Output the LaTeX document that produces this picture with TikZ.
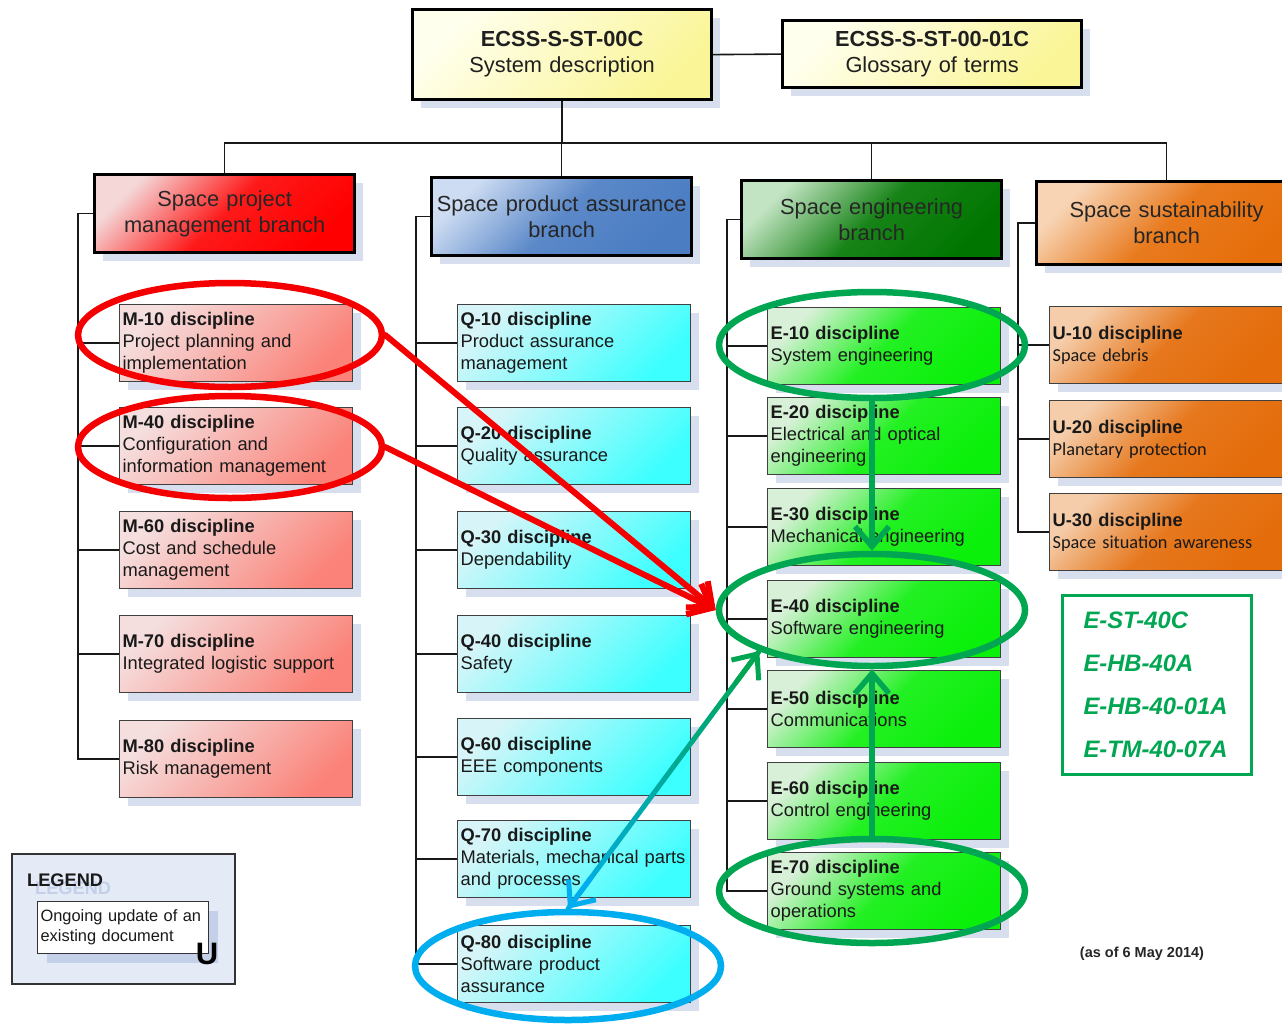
\documentclass[tikz,border=0pt]{standalone}
\usepackage{fontspec}
\setmainfont{Liberation Sans}
\newfontfamily\carl{Carlito}
\usetikzlibrary{shapes.geometric,shadows,arrows.meta,calc}

\definecolor{shadowc}{RGB}{215,223,239}
\definecolor{yL}{RGB}{255,255,238}\definecolor{yF}{RGB}{250,245,150}
\definecolor{rL}{RGB}{245,215,215}\definecolor{rF}{RGB}{255,0,0}
\definecolor{bL}{RGB}{205,220,242}\definecolor{bF}{RGB}{75,125,195}
\definecolor{gL}{RGB}{195,228,195}\definecolor{gF}{RGB}{0,118,0}
\definecolor{oL}{RGB}{248,212,180}\definecolor{oF}{RGB}{230,110,10}
\definecolor{mL}{RGB}{245,222,222}\definecolor{mF}{RGB}{250,130,120}
\definecolor{qL}{RGB}{215,245,248}\definecolor{qF}{RGB}{60,255,255}
\definecolor{eL}{RGB}{215,240,215}\definecolor{eF}{RGB}{10,240,10}
\definecolor{uL}{RGB}{245,205,170}\definecolor{uF}{RGB}{228,108,10}
\definecolor{annR}{RGB}{245,0,0}
\definecolor{annG}{RGB}{0,166,81}
\definecolor{annB}{RGB}{0,174,239}
\definecolor{legfill}{RGB}{228,235,247}
\definecolor{legsh}{RGB}{195,208,232}

\tikzset{
  shad/.style={general shadow={fill=shadowc, shadow xshift=8pt, shadow yshift=-8pt}},
  grad/.style 2 args={top color=#1, bottom color=#2, shading angle=45},
  hgrad/.style 2 args={top color=#1, bottom color=#2, middle color=#2!88!#1, shading angle=45},
  topbox/.style={shad, draw=black, line width=3.2pt, anchor=north west, text width=289pt,
    inner xsep=5pt, align=center, font=\fontsize{21.8}{26}\selectfont, text=black!88},
  hdr/.style={shad, draw=black, line width=3.2pt, anchor=north west, text width=250pt,
    inner xsep=5pt, minimum height=78pt, align=center, font=\fontsize{21.8}{26}\selectfont, text=black!85},
  disc/.style={shad, draw=black!75, line width=1.3pt, anchor=north west, text width=227pt,
    inner xsep=3pt, minimum height=77pt, align=left, font=\fontsize{18.3}{22}\selectfont, text=black!90},
  mbox/.style={disc, grad={mL}{mF}},
  qbox/.style={disc, grad={qL}{qF}},
  ebox/.style={disc, hgrad={eL}{eF}},
  ubox/.style={disc, hgrad={uL}{uF}},
  tree/.style={draw=black!90, line width=1.6pt},
  ell/.style={ellipse, draw, line width=6.5pt, inner sep=0pt},
  annarrow/.style={line width=6pt, line cap=round, -{Straight Barb[length=20pt,width=34pt]}},
}

\begin{document}
\begin{tikzpicture}[x=1pt,y=-1pt]
\useasboundingbox (0,0) rectangle (1282,1023);
\fill[white] (0,0) rectangle (1282,1023);

% top boxes
\node[topbox, minimum height=90pt, grad={yL}{yF}] (std) at (411,8) {\textbf{ECSS-S-ST-00C}\\System description};
\node[topbox, minimum height=67pt, grad={yL}{yF}] (gloss) at (781,19) {\textbf{ECSS-S-ST-00-01C}\\Glossary of terms};

% branch headers
\node[hdr, hgrad={rL}{rF}] (hM) at (93,173) {Space project\\management branch};
\node[hdr, hgrad={bL}{bF}] (hQ) at (430,176) {Space product assurance\\branch};
\node[hdr, hgrad={gL}{gF}] (hE) at (740,179) {Space engineering\\branch};
\node[hdr, minimum height=83pt, hgrad={oL}{oF}] (hU) at (1035,180) {Space sustainability\\branch};

% M discipline
\node[mbox] (m10) at (119,304) {\textbf{M-10 discipline}\\Project planning and\\implementation};
\node[mbox] (m40) at (119,407) {\textbf{M-40 discipline}\\Configuration and\\information management};
\node[mbox] (m60) at (119,511) {\textbf{M-60 discipline}\\Cost and schedule\\management};
\node[mbox] (m70) at (119,615) {\textbf{M-70 discipline}\\Integrated logistic support};
\node[mbox] (m80) at (119,720) {\textbf{M-80 discipline}\\Risk management};

% Q discipline
\node[qbox] (q10) at (457,304) {\textbf{Q-10 discipline}\\Product assurance\\management};
\node[qbox] (q20) at (457,407) {\textbf{Q-20 discipline}\\Quality assurance};
\node[qbox] (q30) at (457,511) {\textbf{Q-30 discipline}\\Dependability};
\node[qbox] (q40) at (457,615) {\textbf{Q-40 discipline}\\Safety};
\node[qbox] (q60) at (457,718) {\textbf{Q-60 discipline}\\EEE components};
\node[qbox] (q70) at (457,820) {\textbf{Q-70 discipline}\\Materials, mechanical parts\\and processes};
\node[qbox] (q80) at (457,925) {\textbf{Q-80 discipline}\\Software product\\assurance};

% E discipline
\node[ebox] (e10) at (767,307) {\textbf{E-10 discipline}\\System engineering};
\node[ebox] (e20) at (767,397) {\textbf{E-20 discipline}\\Electrical and optical\\engineering};
\node[ebox] (e30) at (767,488) {\textbf{E-30 discipline}\\Mechanical engineering};
\node[ebox] (e40) at (767,580) {\textbf{E-40 discipline}\\Software engineering};
\node[ebox] (e50) at (767,670) {\textbf{E-50 discipline}\\Communications};
\node[ebox] (e60) at (767,762) {\textbf{E-60 discipline}\\Control engineering};
\node[ebox] (e70) at (767,852) {\textbf{E-70 discipline}\\Ground systems and\\operations};

% U discipline
\node[ubox] (u10) at (1049,306) {\textbf{U-10 discipline}\\\carl Space debris};
\node[ubox] (u20) at (1049,400) {\textbf{U-20 discipline}\\\carl Planetary protection};
\node[ubox] (u30) at (1049,493) {\textbf{U-30 discipline}\\\carl Space situation awareness};

% tree connectors
\draw[tree] (std.east) -- (gloss.west);
\draw[tree] (std.south) -- ++(0,42) coordinate (bus);
\draw[tree] (hM.north) |- (hU.north |- bus) -- (hU.north);
\draw[tree] (hE.north) -- (hE.north |- bus);
\draw[tree] (hQ.north) -- (hQ.north |- bus);

\draw[tree] (hM.west) -- ++(-15,0) coordinate (sM) |- (m80.west);
\foreach \n in {m10,m40,m60,m70} \draw[tree] (\n.west) -- (\n.west -| sM);
\draw[tree] (hQ.west) -- ++(-14,0) coordinate (sQ) |- (q80.west);
\foreach \n in {q10,q20,q30,q40,q60,q70} \draw[tree] (\n.west) -- (\n.west -| sQ);
\draw[tree] (hE.west) -- ++(-13,0) coordinate (sE) |- (e70.west);
\foreach \n in {e10,e20,e30,e40,e50,e60} \draw[tree] (\n.west) -- (\n.west -| sE);
\draw[tree] (hU.west) -- ++(-17,0) coordinate (sU) |- (u30.west);
\foreach \n in {u10,u20} \draw[tree] (\n.west) -- (\n.west -| sU);

% legend
\node[draw=black!80, line width=1.5pt, fill=legfill, anchor=north west, minimum width=223pt, minimum height=130pt, inner sep=0pt] (leg) at (11,853) {};
\node[font=\bfseries\fontsize{18.2}{20}\selectfont, text=legsh, anchor=base west, inner sep=0pt] (legshadow) at (35,894) {LEGEND};
\node[font=\bfseries\fontsize{18.2}{20}\selectfont, text=black!90, anchor=base west, inner sep=0pt] (legtitle) at (27,886) {LEGEND};
\node[draw=black!80, line width=1.2pt, fill=white, anchor=north west, text width=165pt, inner xsep=3pt, minimum height=52pt, align=left, font=\fontsize{16.4}{20}\selectfont, text=black!90, general shadow={fill=legsh, shadow xshift=9pt, shadow yshift=-9pt}] (legitem) at (37,901) {Ongoing update of an\\existing document};
\node[font=\bfseries\fontsize{31}{31}\selectfont, inner sep=0pt] (legU) at (207,954) {U};

% E-40 documents
\node[draw=annG, line width=3pt, anchor=north west, text width=147pt, inner xsep=21pt, minimum height=179pt, align=left, text=annG, font=\bfseries\itshape\fontsize{23.8}{43}\selectfont] (elist) at (1061,594) {E-ST-40C\\E-HB-40A\\E-HB-40-01A\\E-TM-40-07A};

\node[font=\bfseries\fontsize{14.5}{16}\selectfont, text=black!85] (date) at (1142,954) {(as of 6 May 2014)};

% ellipses
\node[ell, draw=annR, minimum width=304pt, minimum height=104pt] (elM10) at (230,335) {};
\node[ell, draw=annR, minimum width=304pt, minimum height=102pt] (elM40) at (230,447) {};
\node[ell, draw=annG, minimum width=306pt, minimum height=106pt] (elE10) at (872,345) {};
\node[ell, draw=annG, minimum width=306pt, minimum height=112pt] (elE40) at (872,610) {};
\node[ell, draw=annG, minimum width=306pt, minimum height=104pt] (elE70) at (872,891) {};
\node[ell, draw=annB, minimum width=306pt, minimum height=108pt] (elQ80) at (568,966) {};

% annotation arrows
\draw[annarrow, annR] (elM10.east) -- (elE40.west);
\draw[annarrow, annR] (elM40.east) -- (elE40.west);
\draw[annarrow, annG, line width=5.5pt] (elE10.south) -- (elE40.north);
\draw[annarrow, annG, line width=5.5pt] (elE70.north) -- (elE40.south);

\coordinate (ta) at (elE40.200);
\coordinate (tb) at (elQ80.north);
\foreach \i in {0,...,19}{
  \pgfmathtruncatemacro\q{100-5*\i}
  \pgfmathsetmacro\fa{\i/20}
  \pgfmathsetmacro\fb{(\i+1)/20}
  \draw[line width=5pt, line cap=round, draw=annG!\q!annB] ($(ta)!\fa!(tb)$) -- ($(ta)!\fb!(tb)$);
}
\draw[annarrow, annG, line width=5pt] ($(ta)!0.12!(tb)$) -- (ta);
\draw[annarrow, annB, line width=5pt] ($(ta)!0.88!(tb)$) -- (tb);
\end{tikzpicture}
\end{document}
